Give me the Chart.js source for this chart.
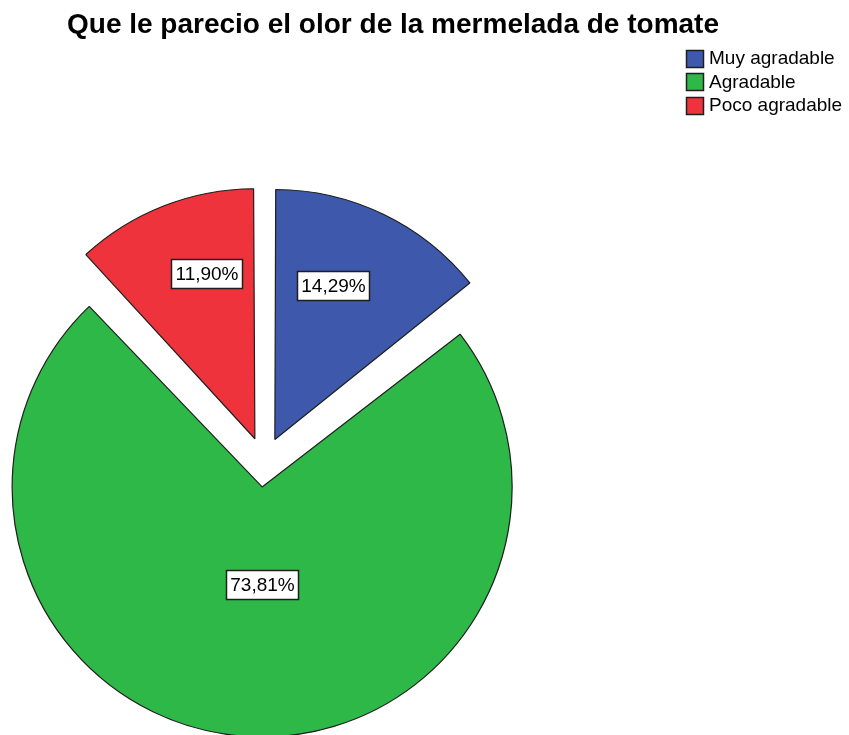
<!DOCTYPE html>
<html>
<head>
<meta charset="utf-8">
<title>Que le parecio el olor de la mermelada de tomate</title>
<script src="https://cdn.jsdelivr.net/npm/chart.js@4.4.1/dist/chart.umd.min.js"></script>
<style>
  html, body { margin: 0; padding: 0; background: #fff; }
  #chart { display: block; }
</style>
</head>
<body>
<canvas id="chart" width="849" height="735"></canvas>
<script>
const chartTitle = 'Que le parecio el olor de la mermelada de tomate';
const categories = ['Muy agradable', 'Agradable', 'Poco agradable'];
const percents = [14.29, 73.81, 11.90];

const sliceColors = ['rgb(62,88,172)', 'rgb(46,184,72)', 'rgb(239,51,60)'];
const labelDist = [0.66, 0.39, 0.69];   // label distance, share of the radius
const labelTurn = [-5, -4, 5];          // degrees off the slice middle
const pieRadius = 250;
const explode = 100;                    // chart.js moves an arc by offset/4

const fontFamily = "'Liberation Sans', Arial, sans-serif";

function fmt(v) {
    return v.toFixed(2).replace('.', ',') + '%';
}

// chart.js also grows the radius of an offset arc (by the full push for arcs
// over 180 deg), take that back out so the three slices stay the same size
const keepRadius = {
    id: 'keepRadius',
    afterDatasetUpdate(chart, args) {
        args.meta.data.forEach(arc => {
            const push = (arc.options.offset || 0) / 4;
            const fix = 1 - Math.sin(Math.min(Math.PI, arc.circumference));
            arc.outerRadius -= push * fix;
        });
    }
};

const sliceLabels = {
    id: 'sliceLabels',
    afterDatasetsDraw(chart) {
        const ctx = chart.ctx;
        const meta = chart.getDatasetMeta(0);
        ctx.save();
        ctx.font = '19px ' + fontFamily;
        ctx.textAlign = 'center';
        ctx.textBaseline = 'middle';
        meta.data.forEach((arc, i) => {
            const mid = (arc.startAngle + arc.endAngle) / 2;
            const push = (arc.options.offset || 0) / 4;
            const a = mid + labelTurn[i] * Math.PI / 180;
            const r = labelDist[i] * pieRadius;
            const x = arc.x + Math.cos(mid) * push + Math.cos(a) * r;
            const y = arc.y + Math.sin(mid) * push + Math.sin(a) * r;
            const text = fmt(percents[i]);
            const w = Math.round(ctx.measureText(text).width + 8);
            const h = 29;
            const bx = Math.round(x - w / 2) + 0.5;
            const by = Math.round(y - h / 2) + 0.5;
            ctx.fillStyle = '#fff';
            ctx.fillRect(bx, by, w, h);
            ctx.strokeStyle = '#1e1e1e';
            ctx.lineWidth = 1.5;
            ctx.strokeRect(bx, by, w, h);
            ctx.fillStyle = '#000';
            ctx.fillText(text, bx + w / 2, by + h / 2 + 1);
        });
        ctx.restore();
    }
};

// title and legend sit where SPSS put them
const header = {
    id: 'header',
    afterDraw(chart) {
        const ctx = chart.ctx;
        ctx.save();
        ctx.fillStyle = '#000';
        ctx.font = 'bold 28px ' + fontFamily;
        ctx.textAlign = 'center';
        ctx.textBaseline = 'alphabetic';
        ctx.fillText(chartTitle, 393, 33);

        ctx.font = '19px ' + fontFamily;
        ctx.textAlign = 'left';
        ctx.textBaseline = 'middle';
        chart.data.labels.forEach((label, i) => {
            const y = 58 + i * 23.5;
            ctx.fillStyle = sliceColors[i];
            ctx.fillRect(686.5, Math.round(y - 8.5) + 0.5, 17, 17);
            ctx.strokeStyle = '#1e1e1e';
            ctx.lineWidth = 1.5;
            ctx.strokeRect(686.5, Math.round(y - 8.5) + 0.5, 17, 17);
            ctx.fillStyle = '#000';
            ctx.fillText(label, 709, y + 1);
        });
        ctx.restore();
    }
};

const data = {
    labels: categories,
    datasets: [{
        data: percents,
        backgroundColor: sliceColors,
        borderColor: '#1e1e1e',
        borderWidth: 1.2,
        offset: explode,
        hoverOffset: 0,
        radius: pieRadius,
        clip: false
    }]
};

const config = {
    type: 'pie',
    data: data,
    options: {
        responsive: false,
        animation: false,
        events: [],
        layout: {
            padding: { left: 0, right: 321, top: 199, bottom: 10 }
        },
        plugins: {
            legend: { display: false },
            title: { display: false },
            tooltip: { enabled: false }
        }
    },
    plugins: [keepRadius, sliceLabels, header]
};

const myChart = new Chart(document.getElementById('chart'), config);
</script>
</body>
</html>
